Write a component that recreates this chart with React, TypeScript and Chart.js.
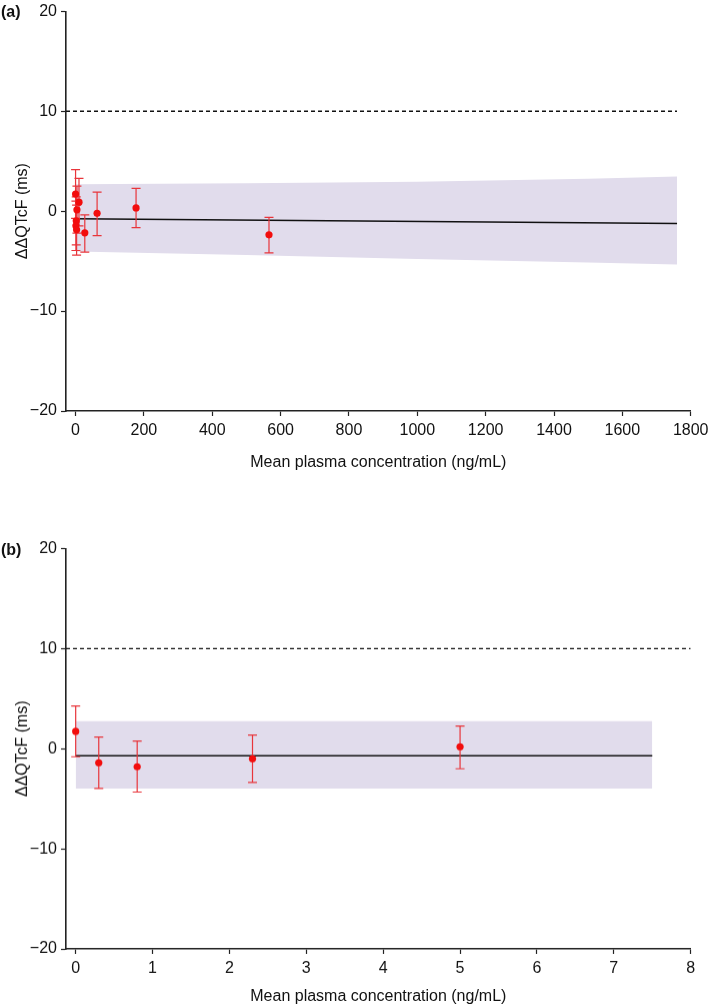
import React, { useEffect, useRef } from "react";
import { Chart, registerables } from "chart.js";

Chart.register(...registerables);

// ---------- Panel (a) data ----------
const concA = [0, 10, 4, 2, 1, 3, 27, 63, 177, 566];
const meanA = [1.71, 0.9, 0.13, -0.97, -1.47, -1.87, -2.17, -0.22, 0.32, -2.37];
const upperA = [4.15, 3.28, 2.5, 1.43, 1.0, 0.6, -0.38, 1.9, 2.27, -0.63];
const lowerA = [-0.73, -1.48, -2.2, -3.37, -3.94, -4.4, -4.1, -2.45, -1.64, -4.17];
const fitConcA = [0, 1760];
const fitA = [-0.77, -1.23];
const bandConcA = [0, 500, 1000, 1500, 1760];
const bandUpperA = [2.7, 2.8, 2.95, 3.25, 3.48];
const bandLowerA = [-4.05, -4.4, -4.8, -5.15, -5.35];
const refConcA = [-28, 1760];
const xTicksA = [0, 200, 400, 600, 800, 1000, 1200, 1400, 1600, 1800];

// ---------- Panel (b) data ----------
const concB = [0, 0.3, 0.8, 2.3, 5.0];
const meanB = [1.73, -1.4, -1.8, -1.0, 0.2];
const upperB = [4.27, 1.17, 0.77, 1.37, 2.27];
const lowerB = [-0.8, -3.97, -4.33, -3.37, -2.0];
const fitConcB = [0, 7.5];
const fitB = [-0.7, -0.7];
const bandConcB = [0, 7.5];
const bandUpperB = [2.75, 2.75];
const bandLowerB = [-3.99, -3.99];
const refConcB = [-0.126, 8];
const xTicksB = [0, 1, 2, 3, 4, 5, 6, 7, 8];

// shared
const yTicks = [-20, -10, 0, 10, 20];
const refValue = 10;
const yTitle = "ΔΔQTcF (ms)";
const xTitle = "Mean plasma concentration (ng/mL)";

const FONT = "'Liberation Sans', Arial, Helvetica, sans-serif";
const RED = "#f20d0d";
const RED_BAR = "#e8353b";
const BAND = "#e1dcec";

type PanelProps = {
  label: string;
  top: number;
  height: number;
  padTop: number;
  xAxisH: number;
  xMin: number;
  xMax: number;
  xTicks: number[];
  conc: number[];
  mean: number[];
  upper: number[];
  lower: number[];
  fitConc: number[];
  fit: number[];
  bandConc: number[];
  bandUpper: number[];
  bandLower: number[];
  refConc: number[];
};

function makeErrorPlugin(conc: number[], upper: number[], lower: number[]) {
  return {
    id: "errbars",
    afterDatasetDraw(chart: any, args: any) {
      if (args.index !== 1) return;
      const { ctx, scales } = chart;
      const x = scales.x;
      const y = scales.y;
      ctx.save();
      ctx.strokeStyle = RED_BAR;
      ctx.lineWidth = 1.2;
      const cap = 4.5;
      for (let i = 0; i < conc.length; i++) {
        const px = x.getPixelForValue(conc[i]);
        const pt = y.getPixelForValue(upper[i]);
        const pb = y.getPixelForValue(lower[i]);
        ctx.beginPath();
        ctx.moveTo(px, pt);
        ctx.lineTo(px, pb);
        ctx.moveTo(px - cap, pt);
        ctx.lineTo(px + cap, pt);
        ctx.moveTo(px - cap, pb);
        ctx.lineTo(px + cap, pb);
        ctx.stroke();
      }
      ctx.restore();
    },
  };
}

const fmtY = (v: number) => (v < 0 ? "\u2212" + Math.abs(v) : String(v));

function Panel(p: PanelProps) {
  const ref = useRef<HTMLCanvasElement | null>(null);
  useEffect(() => {
    if (!ref.current) return;
    const pts = p.conc.map((c, i) => ({ x: c, y: p.mean[i] }));
    const fitPts = p.fitConc.map((c, i) => ({ x: c, y: p.fit[i] }));
    const refPts = p.refConc.map((c) => ({ x: c, y: refValue }));
    const upPts = p.bandConc.map((c, i) => ({ x: c, y: p.bandUpper[i] }));
    const loPts = p.bandConc.map((c, i) => ({ x: c, y: p.bandLower[i] }));
    const chart = new Chart(ref.current, {
      type: "scatter",
      data: {
        datasets: [
          {
            data: pts,
            showLine: false,
            pointRadius: 3.6,
            pointBackgroundColor: RED,
            pointBorderColor: RED,
            pointBorderWidth: 0,
          },
          {
            data: fitPts,
            showLine: true,
            borderColor: "#111",
            borderWidth: 1.5,
            pointRadius: 0,
            fill: false,
          },
          {
            data: refPts,
            showLine: true,
            borderColor: "#111",
            borderWidth: 1.3,
            borderDash: [4, 3],
            pointRadius: 0,
            fill: false,
          },
          {
            data: upPts,
            showLine: true,
            borderWidth: 0,
            borderColor: "rgba(0,0,0,0)",
            backgroundColor: BAND,
            pointRadius: 0,
            fill: "+1",
          },
          {
            data: loPts,
            showLine: true,
            borderWidth: 0,
            borderColor: "rgba(0,0,0,0)",
            pointRadius: 0,
            fill: false,
          },
        ],
      },
      options: {
        animation: false,
        responsive: false,
        maintainAspectRatio: false,
        events: [],
        layout: { padding: { left: 0, right: 18.3, top: p.padTop, bottom: 0 } },
        plugins: {
          legend: { display: false },
          tooltip: { enabled: false },
        },
        scales: {
          x: {
            type: "linear",
            min: p.xMin,
            max: p.xMax,
            afterBuildTicks: (s: any) => {
              s.ticks = p.xTicks.map((v) => ({ value: v }));
            },
            afterFit: (s: any) => {
              s.height = p.xAxisH;
              s.paddingLeft = 0;
              s.paddingRight = 0;
            },
            grid: {
              drawOnChartArea: false,
              drawTicks: true,
              tickLength: 5,
              tickColor: "#222",
              tickWidth: 1.2,
            },
            border: { color: "#222", width: 1.6 },
            ticks: {
              color: "#111",
              font: { family: FONT, size: 16 },
              padding: 5,
              maxRotation: 0,
              autoSkip: false,
              callback: (v: any) => String(v),
            },
            title: {
              display: true,
              text: xTitle,
              color: "#111",
              font: { family: FONT, size: 16 },
              padding: { top: 0, bottom: 0 },
            },
          },
          y: {
            type: "linear",
            min: -20,
            max: 20,
            afterBuildTicks: (s: any) => {
              s.ticks = yTicks.map((v) => ({ value: v }));
            },
            afterFit: (s: any) => {
              s.width = 66;
              s.paddingTop = 0;
              s.paddingBottom = 0;
            },
            grid: {
              drawOnChartArea: false,
              drawTicks: true,
              tickLength: 5,
              tickColor: "#222",
              tickWidth: 1.2,
            },
            border: { color: "#222", width: 1.6 },
            ticks: {
              color: "#111",
              font: { family: FONT, size: 16 },
              padding: 4,
              callback: (v: any) => fmtY(Number(v)),
            },
            title: {
              display: true,
              text: yTitle,
              color: "#111",
              font: { family: FONT, size: 16 },
              padding: { top: 13, bottom: 0 },
            },
          },
        },
      },
      plugins: [makeErrorPlugin(p.conc, p.upper, p.lower)],
    } as any);
    return () => chart.destroy();
  }, []);
  return (
    <div
      style={{
        position: "absolute",
        left: 0,
        top: p.top,
        width: 709,
        height: p.height,
      }}
    >
      <canvas
        ref={ref}
        width={709}
        height={p.height}
        style={{ width: 709, height: p.height, display: "block" }}
      />
      <div
        style={{
          position: "absolute",
          left: 1,
          top: p.padTop - 9,
          lineHeight: "20px",
          fontFamily: FONT,
          fontWeight: "bold",
          fontSize: 16,
          color: "#111",
        }}
      >
        {p.label}
      </div>
    </div>
  );
}

export default function App() {
  return (
    <div
      style={{
        position: "fixed",
        left: 0,
        top: 0,
        width: 709,
        height: 1004,
        overflow: "hidden",
        background: "#fff",
      }}
    >
      <Panel
        label="(a)"
        top={0}
        height={472}
        padTop={11.3}
        xAxisH={61}
        xMin={-28}
        xMax={1800}
        xTicks={xTicksA}
        conc={concA}
        mean={meanA}
        upper={upperA}
        lower={lowerA}
        fitConc={fitConcA}
        fit={fitA}
        bandConc={bandConcA}
        bandUpper={bandUpperA}
        bandLower={bandLowerA}
        refConc={refConcA}
      />
      <Panel
        label="(b)"
        top={537}
        height={468.5}
        padTop={11.5}
        xAxisH={57}
        xMin={-0.126}
        xMax={8}
        xTicks={xTicksB}
        conc={concB}
        mean={meanB}
        upper={upperB}
        lower={lowerB}
        fitConc={fitConcB}
        fit={fitB}
        bandConc={bandConcB}
        bandUpper={bandUpperB}
        bandLower={bandLowerB}
        refConc={refConcB}
      />
    </div>
  );
}
